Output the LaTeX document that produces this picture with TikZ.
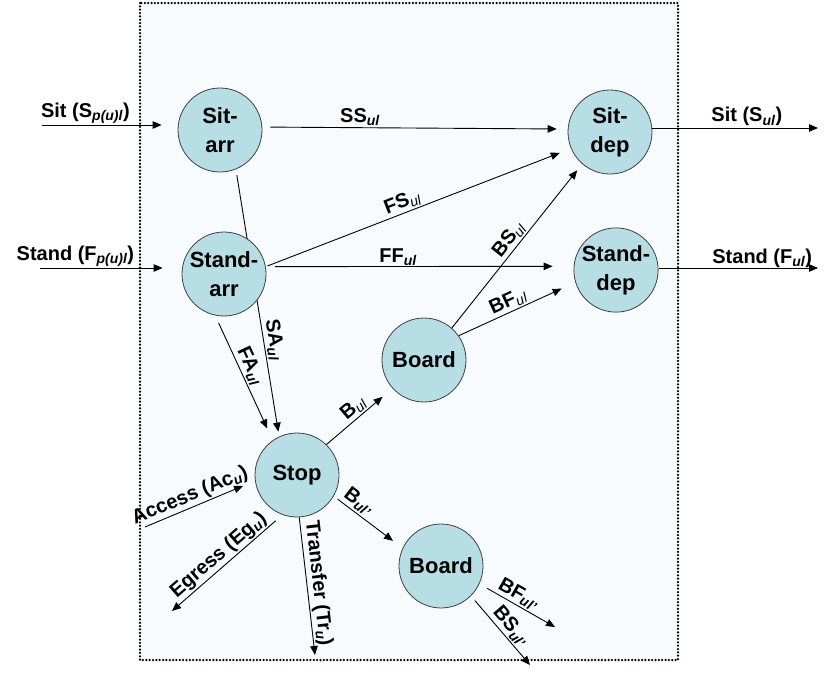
\documentclass[tikz,border=0pt]{standalone}
\usepackage{fontspec}
\setmainfont{Liberation Sans}
\usetikzlibrary{arrows.meta,calc}
\pgfdeclarelayer{bg}
\pgfdeclarelayer{mid}
\pgfsetlayers{bg,mid,main}
\definecolor{nodefill}{RGB}{183,222,228}
\definecolor{bgfill}{RGB}{247,251,253}
\newcommand{\sbs}[1]{\textsubscript{\itshape #1}}
\tikzset{
  stn/.style={circle, draw=black!75, line width=0.8pt, fill=nodefill, minimum size=84pt,
    inner sep=0pt, font=\fontsize{22}{29}\selectfont\bfseries, align=center},
  arr/.style={draw=black, line width=0.9pt, -{Triangle[length=9pt,width=7.5pt]}},
  lbl/.style={font=\fontsize{20}{24}\selectfont\bfseries, inner sep=1.5pt},
  slbl/.style={lbl, sloped, above},
  frame/.style={fill=bgfill, line width=2.5pt, dash pattern=on 0pt off 3.35pt, line cap=round}
}
\begin{document}
\begin{tikzpicture}[x=1pt,y=-1pt]
\useasboundingbox (0,0) rectangle (837,680);
\begin{pgfonlayer}{bg}
  \draw[frame] (140,3) rectangle (678,660);
\end{pgfonlayer}

% nodes
\node[stn] (sitarr) at (220,130) {Sit-\\arr};
\node[stn] (standarr) at (224,274) {Stand-\\arr};
\node[stn] (sitdep) at (610,132) {Sit-\\dep};
\node[stn] (standdep) at (616,270) {Stand-\\dep};
\node[stn] (board1) at (424,360) {Board};
\node[stn] (stop) at (297,475) {Stop};
\node[stn] (board2) at (441,566) {Board};

% free ends
\coordinate (sitin) at (42,125);
\coordinate (standin) at (40,268);
\coordinate (sitout) at (818,128);
\coordinate (standout) at (818,268);
\coordinate (accin) at (145,527);
\coordinate (egout) at (172,611);
\coordinate (trout) at (315,655);
\coordinate (bfout) at (555,627);
\coordinate (bsout) at (530,665);

% inputs / outputs
\draw[arr, shorten >=16pt] (sitin) -- node[lbl, above, pos=0.32] {Sit (S\sbs{p(u)l})} (sitin -| sitarr.west);
\draw[arr, shorten >=19pt] (standin) -- node[lbl, above, pos=0.25] {Stand (F\sbs{p(u)l})} (standin -| standarr.west);
\draw[arr] (sitdep.east |- sitout) -- node[lbl, above, pos=0.57] {Sit (S\sbs{ul})} (sitout);
\draw[arr] (standdep.east |- standout) -- node[lbl, above, inner sep=0pt, pos=0.65] {Stand (F\sbs{ul})} (standout);

% internal links
\draw[arr, shorten <=8pt, shorten >=11pt] (sitarr.4) -- node[lbl, above, pos=0.32] {SS\sbs{ul}} (sitdep.176);
\draw[arr, shorten <=9pt, shorten >=21pt] (standarr.10) -- node[lbl, above, inner sep=0pt, pos=0.43] {FF\sbs{ul}} (standdep.175);
\draw[arr, shorten <=2pt, shorten >=12pt] (standarr.10) -- node[slbl, pos=0.46] {FS{\mdseries\sbs{ul}}} (sitdep.203);
\draw[arr, shorten >=8pt] (board1.49) -- node[slbl, pos=0.5] {BS{\mdseries\sbs{ul}}} (sitdep.229);
\draw[arr, shorten >=15pt] (board1.35) -- node[slbl, pos=0.46] {BF{\mdseries\sbs{ul}}} (standdep.197);
\begin{pgfonlayer}{mid}
\draw[arr, shorten <=6pt, shorten >=5pt] (sitarr.-68) -- node[slbl, pos=0.645] {SA\sbs{ul}} (stop.115);
\end{pgfonlayer}
\draw[arr, shorten <=8pt, shorten >=13pt] (standarr.258) -- node[slbl, pos=0.44] {FA\sbs{ul}} (stop.125);
\draw[arr, shorten >=13pt] (stop.46) -- node[slbl, pos=0.51] {B{\mdseries\sbs{ul}}} (board1.222);
\draw[arr, shorten >=13pt] (accin) -- node[slbl, pos=0.45] {Access (Ac\sbs{u})} (stop.188);
\draw[arr, shorten <=9pt] (stop.250) -- node[slbl, pos=0.51] {Egress (Eg\sbs{u})} (egout);
\draw[arr] (stop.-87) -- node[slbl, pos=0.49] {Transfer (Tr\sbs{u})} (trout);
\draw[arr, shorten <=5pt, shorten >=12pt] (stop.-30) -- node[slbl, pos=0.27] {B\sbs{ul’}} (board2.155);
\draw[arr, shorten <=9pt] (board2.-25.5) -- node[slbl, pos=0.45] {BF\sbs{ul’}} (bfout);
\draw[arr, shorten <=6pt] (board2.-45) -- node[slbl, pos=0.54] {BS\sbs{ul’}} (bsout);
\end{tikzpicture}
\end{document}
